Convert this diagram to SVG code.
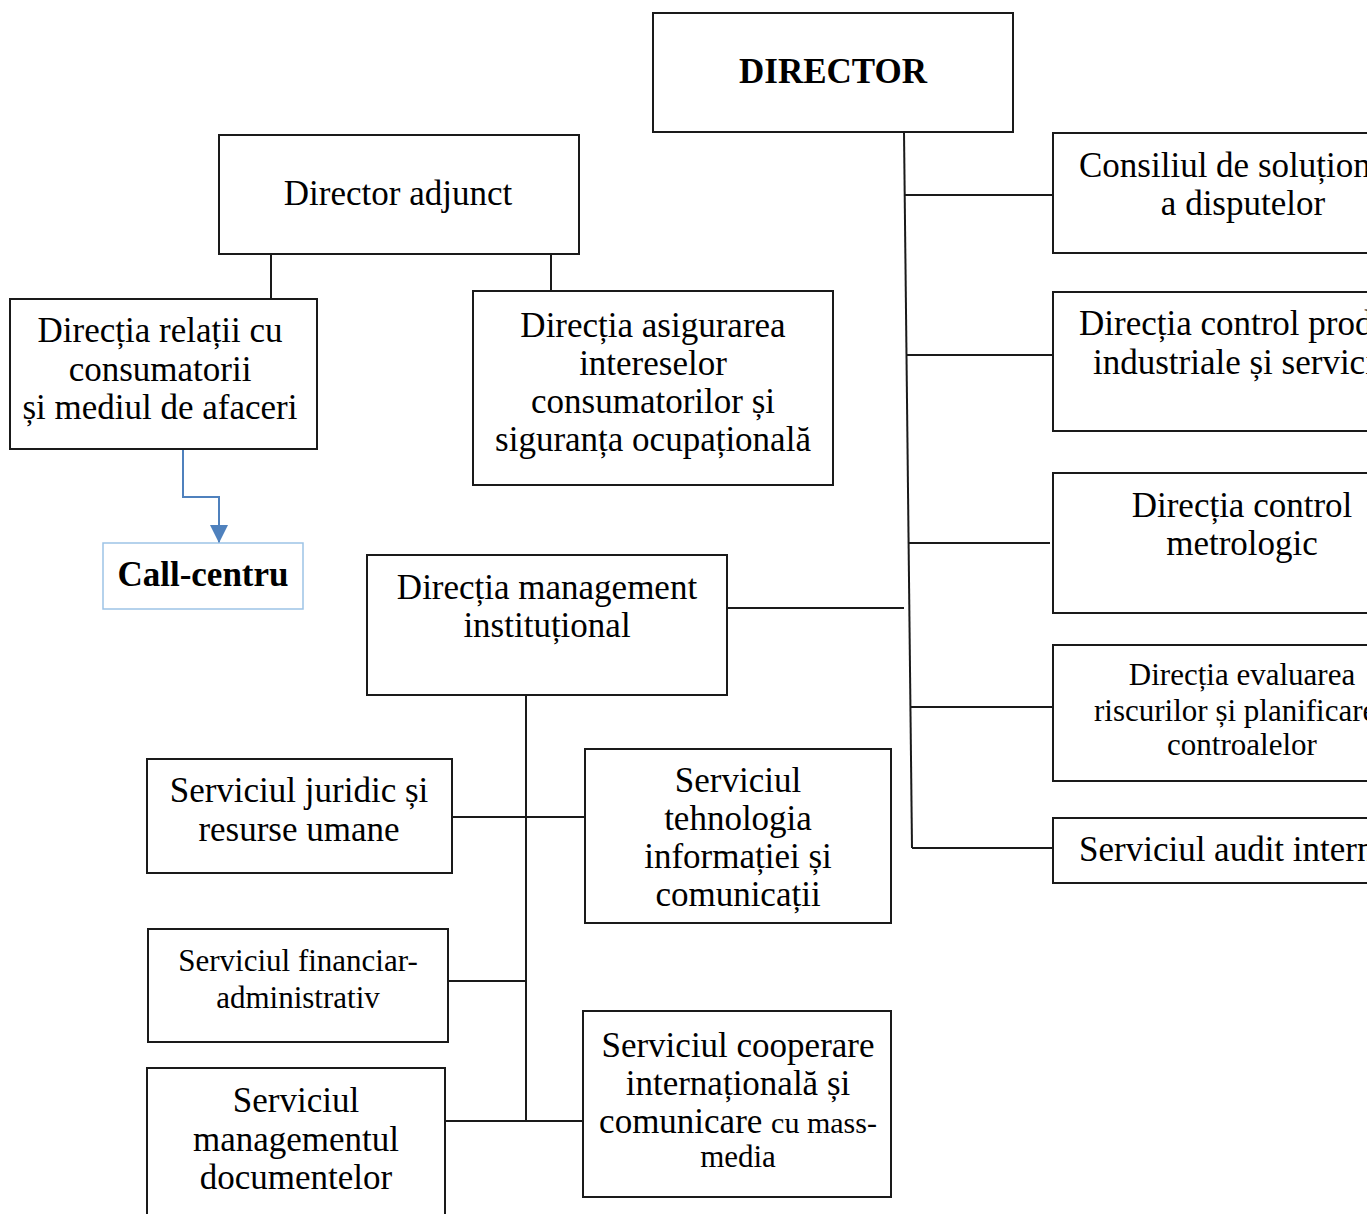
<svg xmlns="http://www.w3.org/2000/svg" width="1367" height="1214" viewBox="0 0 1367 1214">
<style>
.box{fill:#fff;stroke:#1a1a1a;stroke-width:2}
.cc{fill:#fff;stroke:#9dc3e6;stroke-width:1.5}
.t{font-family:"Liberation Serif","Times New Roman",serif;font-size:35px;fill:#000;text-anchor:middle}
.s{font-size:31px}
.b{font-weight:bold}
.ls{text-anchor:start}
.ln{stroke:#1a1a1a;stroke-width:2;fill:none}
.bl{stroke:#4f81bd;stroke-width:2;fill:none}
</style>
<defs>
<marker id="ah" markerWidth="18" markerHeight="18" viewBox="0 0 18 18" refX="18" refY="9" orient="auto" markerUnits="userSpaceOnUse">
<path d="M0,0 L18,9 L0,18 Z" fill="#4f81bd"/>
</marker>
</defs>
<rect width="1367" height="1214" fill="#fff"/>
<g id="connectors">
<path class="ln" d="M904,132 L912,848"/>
<path class="ln" d="M904.7,195 H1053"/>
<path class="ln" d="M906.5,355 H1053"/>
<path class="ln" d="M908.6,543 H1050"/>
<path class="ln" d="M910.4,707 H1053"/>
<path class="ln" d="M912,848 H1053"/>
<path class="ln" d="M727,608 H904"/>
<path class="ln" d="M271,254 V299"/>
<path class="ln" d="M551,254 V291"/>
<path class="ln" d="M526,695 V1121"/>
<path class="ln" d="M452,817 H585"/>
<path class="ln" d="M448,981 H526"/>
<path class="ln" d="M445,1121 H583"/>
<path class="bl" d="M183,449 V497 H219 V543" marker-end="url(#ah)"/>
</g>
<g id="director">
<rect class="box" x="653" y="13" width="360" height="119"/>
<text class="t b" x="833" y="83" font-size="33">DIRECTOR</text>
</g>
<g id="director-adjunct">
<rect class="box" x="219" y="135" width="360" height="119"/>
<text class="t" x="398" y="205">Director adjunct</text>
</g>
<g id="directia-relatii">
<rect class="box" x="10" y="299" width="307" height="150"/>
<text class="t" x="160" y="342">Direcția relații cu</text>
<text class="t" x="160" y="381">consumatorii</text>
<text class="t" x="160" y="419">și mediul de afaceri</text>
</g>
<g id="call-centru">
<rect class="cc" x="103" y="543" width="200" height="66"/>
<text class="t b" x="203" y="586" font-size="29">Call-centru</text>
</g>
<g id="directia-asigurarea">
<rect class="box" x="473" y="291" width="360" height="194"/>
<text class="t" x="653" y="337">Direcția asigurarea</text>
<text class="t" x="653" y="375">intereselor</text>
<text class="t" x="653" y="413">consumatorilor și</text>
<text class="t" x="653" y="451">siguranța ocupațională</text>
</g>
<g id="directia-management">
<rect class="box" x="367" y="555" width="360" height="140"/>
<text class="t" x="547" y="599">Direcția management</text>
<text class="t" x="547" y="637">instituțional</text>
</g>
<g id="consiliul">
<rect class="box" x="1053" y="133" width="400" height="120"/>
<text class="t ls" x="1079" y="177">Consiliul de soluționare</text>
<text class="t" x="1243" y="215">a disputelor</text>
</g>
<g id="directia-control-produse">
<rect class="box" x="1053" y="292" width="400" height="139"/>
<text class="t ls" x="1079" y="335">Direcția control produse</text>
<text class="t ls" x="1093" y="374">industriale și servicii</text>
</g>
<g id="directia-metrologic">
<rect class="box" x="1053" y="473" width="400" height="140"/>
<text class="t" x="1242" y="517">Direcția control</text>
<text class="t" x="1242" y="555">metrologic</text>
</g>
<g id="directia-evaluarea">
<rect class="box" x="1053" y="645" width="400" height="136"/>
<text class="t s" x="1242" y="685">Direcția evaluarea</text>
<text class="t s ls" x="1094" y="721">riscurilor și planificarea</text>
<text class="t s" x="1242" y="755">controalelor</text>
</g>
<g id="audit">
<rect class="box" x="1053" y="818" width="400" height="65"/>
<text class="t ls" x="1079" y="861">Serviciul audit intern</text>
</g>
<g id="juridic">
<rect class="box" x="147" y="759" width="305" height="114"/>
<text class="t" x="299" y="802">Serviciul juridic și</text>
<text class="t" x="299" y="841">resurse umane</text>
</g>
<g id="tehnologia">
<rect class="box" x="585" y="749" width="306" height="174"/>
<text class="t" x="738" y="792">Serviciul</text>
<text class="t" x="738" y="830">tehnologia</text>
<text class="t" x="738" y="868">informației și</text>
<text class="t" x="738" y="906">comunicații</text>
</g>
<g id="financiar">
<rect class="box" x="148" y="929" width="300" height="113"/>
<text class="t s" x="298" y="971">Serviciul financiar-</text>
<text class="t s" x="298" y="1008">administrativ</text>
</g>
<g id="managementul">
<rect class="box" x="147" y="1068" width="298" height="170"/>
<text class="t" x="296" y="1112">Serviciul</text>
<text class="t" x="296" y="1151">managementul</text>
<text class="t" x="296" y="1189">documentelor</text>
</g>
<g id="cooperare">
<rect class="box" x="583" y="1011" width="308" height="186"/>
<text class="t" x="738" y="1057">Serviciul cooperare</text>
<text class="t" x="738" y="1095">internațională și</text>
<text class="t" x="738" y="1133">comunicare <tspan font-size="30">cu mass-</tspan></text>
<text class="t s" x="738" y="1167">media</text>
</g>
</svg>
